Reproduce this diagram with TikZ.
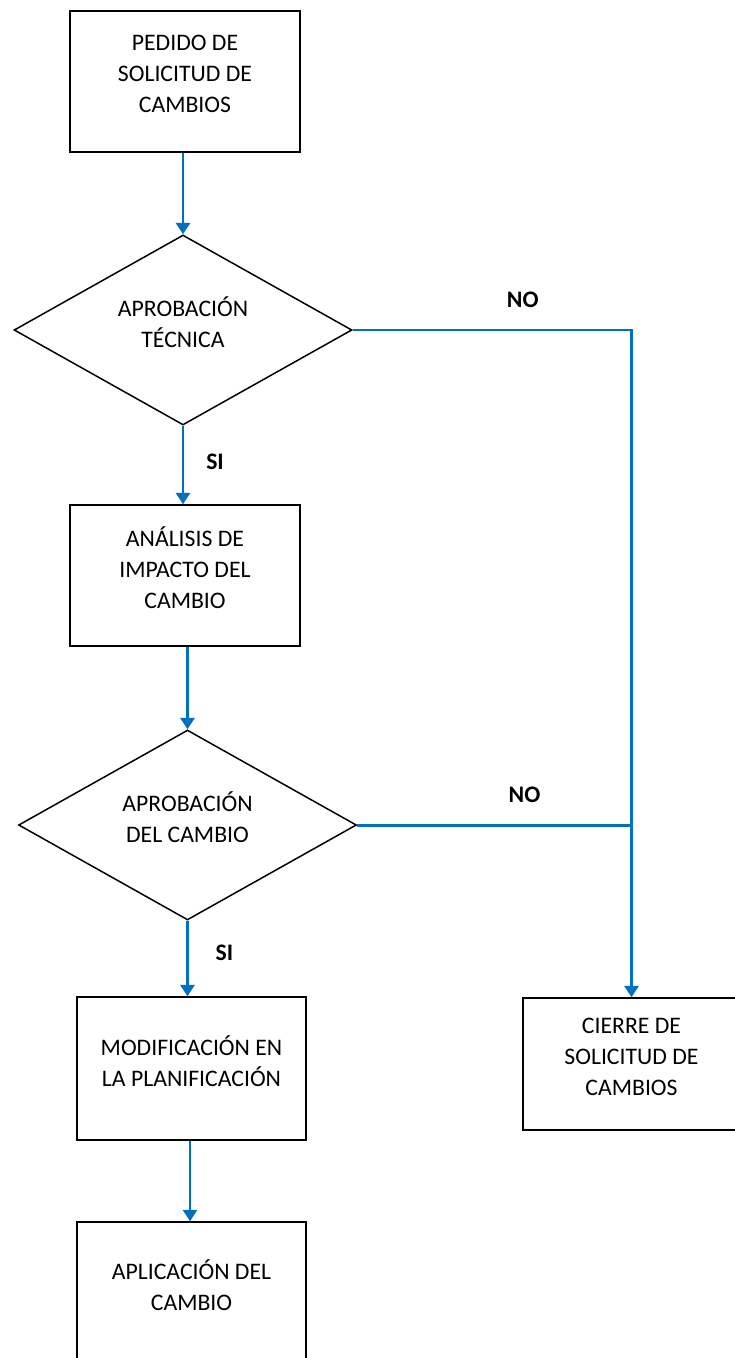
\documentclass[tikz,border=0pt]{standalone}
\usepackage{fontspec}
\setmainfont{Carlito}
\usetikzlibrary{shapes.geometric,arrows.meta}

\definecolor{azul}{RGB}{0,112,192}

\tikzset{
    texto/.style={align=flush center,font=\fontsize{13.5}{17.6}\selectfont,
        execute at end node={\par\vspace*{0.3cm}}},
    caja/.style={draw,line width=0.85pt,minimum width=4.6cm,minimum height=2.82cm,
        inner sep=2pt,text width=4.3cm,texto},
    rombo/.style={draw,diamond,aspect=1.78,line width=0.85pt,inner sep=0pt,
        minimum width=6.76cm,minimum height=3.8cm,text width=3cm,texto},
    flecha/.style={draw=azul,line width=1.7pt,-{Triangle[length=6.5pt,width=8pt]}},
    linea/.style={draw=azul,line width=1.7pt},
    etiqueta/.style={font=\fontsize{13.5}{15}\selectfont\bfseries,inner sep=1pt}
}

\begin{document}
\begin{tikzpicture}[x=0.02cm,y=-0.02cm]
    \useasboundingbox (0,0) rectangle (734,1358);
    %% boxes and decisions
    \node[caja] (pedido) at (185,81.5) {PEDIDO DE\\SOLICITUD DE\\CAMBIOS};
    \node[rombo] (aprobtec) at (183,330) {APROBACIÓN\\TÉCNICA};
    \node[caja] (analisis) at (185,575.5) {ANÁLISIS DE\\IMPACTO DEL\\CAMBIO};
    \node[rombo] (aprobcambio) at (187.5,825) {APROBACIÓN\\DEL CAMBIO};
    \node[caja,minimum width=4.58cm,minimum height=2.86cm] (modificacion) at (191.5,1068.5)
        {MODIFICACIÓN EN\\LA PLANIFICACIÓN};
    \node[caja,minimum width=4.58cm] (aplicacion) at (191.5,1292.5) {APLICACIÓN DEL\\CAMBIO};
    \node[caja,minimum width=4.34cm,minimum height=2.64cm,text width=4cm] (cierre)
        at (631.5,1064) {CIERRE DE\\SOLICITUD DE\\CAMBIOS};
    %% main flow
    \draw[flecha] (pedido.south -| aprobtec.north) -- (aprobtec.north);
    \draw[flecha] (aprobtec.south) -- (aprobtec.south |- analisis.north)
        node[etiqueta,pos=0.46,right=0.4cm] {SI};
    \draw[flecha] (analisis.south -| aprobcambio.north) -- (aprobcambio.north);
    \draw[flecha] (aprobcambio.south) -- (aprobcambio.south |- modificacion.north)
        node[etiqueta,pos=0.42,right=0.5cm] {SI};
    \draw[flecha] (modificacion.south -| 190,0) -- (aplicacion.north -| 190,0);
    %% rejected branches
    \draw[flecha] (aprobtec.east) -| (cierre.north)
        node[etiqueta,pos=0.305,above=0.38cm] {NO};
    \draw[linea] (aprobcambio.east) -- (aprobcambio.east -| cierre.north)
        node[etiqueta,pos=0.61,above=0.38cm] {NO};
\end{tikzpicture}
\end{document}
